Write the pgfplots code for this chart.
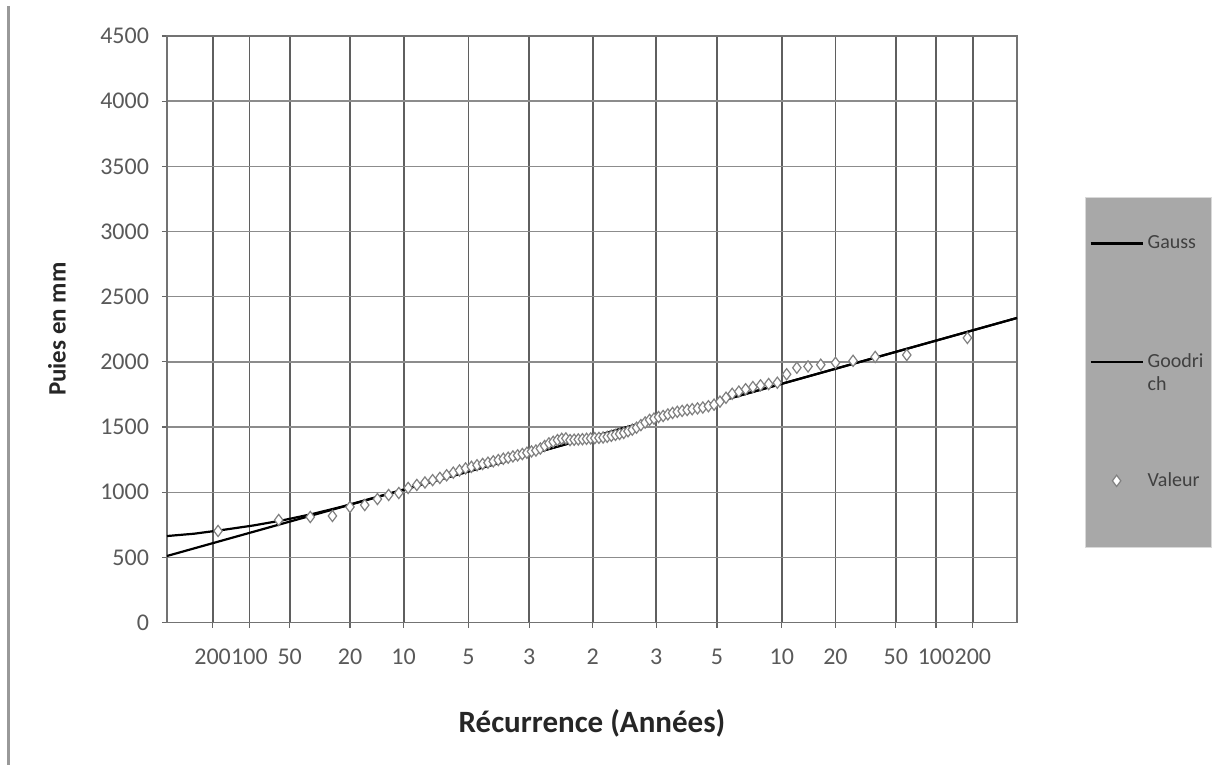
\documentclass[border=0pt]{standalone}
\usepackage{pgfplots}
\pgfplotsset{compat=1.18}
\usepackage{fontspec}
\setmainfont{Carlito}
\definecolor{legendgray}{RGB}{168,168,168}
\definecolor{tickgray}{RGB}{89,89,89}
\definecolor{vgrid}{RGB}{95,95,95}
\definecolor{hgrid}{RGB}{140,140,140}
\pgfplotsset{valeurlegend/.style={legend image code/.code={\path (0pt,-16pt) (0pt,0pt); \draw[mark repeat=2,mark phase=2,##1] plot coordinates {(0pt,0pt) (13pt,0pt) (26pt,0pt)};}}}

\pgfplotstableread{
u v
-2.539 703
-2.128 787
-1.914 810
-1.764 818
-1.645 887
-1.545 902
-1.459 948
-1.383 979
-1.314 994
-1.251 1033
-1.192 1056
-1.137 1075
-1.085 1093
-1.036 1110
-0.990 1130
-0.945 1150
-0.903 1167
-0.862 1183
-0.822 1195
-0.784 1207
-0.746 1217
-0.710 1227
-0.674 1237
-0.640 1247
-0.606 1257
-0.573 1265
-0.541 1275
-0.509 1283
-0.477 1293
-0.446 1303
-0.415 1313
-0.385 1320
-0.355 1335
-0.326 1355
-0.297 1375
-0.268 1387
-0.239 1400
-0.210 1410
-0.182 1413
-0.154 1400
-0.126 1403
-0.098 1405
-0.070 1407
-0.042 1410
-0.014 1413
0.014 1415
0.042 1417
0.070 1420
0.098 1425
0.126 1433
0.154 1440
0.182 1447
0.210 1455
0.239 1468
0.268 1480
0.297 1495
0.326 1515
0.355 1535
0.385 1555
0.415 1565
0.446 1577
0.477 1585
0.509 1597
0.541 1608
0.573 1617
0.606 1624
0.640 1631
0.674 1637
0.710 1643
0.746 1650
0.784 1660
0.822 1672
0.862 1695
0.903 1725
0.945 1755
0.990 1772
1.036 1790
1.085 1807
1.137 1820
1.192 1830
1.251 1840
1.314 1905
1.383 1955
1.459 1965
1.545 1978
1.645 1993
1.764 2008
1.914 2038
2.128 2053
2.539 2184
}\valeur

\pgfplotstableread{
u v
-2.885 511
2.875 2337
}\gauss

\pgfplotstableread{
u v
-2.885 664
-2.7 682
-2.5 712
-2.3 745
-2.1 785
-1.9 833
-1.7 889
-1.5 952
-1.3 1015
0 1426
1 1743
2 2060
2.875 2337
}\goodrich

\begin{document}
\begin{tikzpicture}
\useasboundingbox (0,0) rectangle (606pt,382.5pt);
\fill[black!40] (3.5pt,0pt) rectangle (5pt,379.5pt);
\begin{axis}[
  at={(83.5pt,71.2pt)}, anchor=south west,
  scale only axis, width=425pt, height=293.3pt,
  xmin=-2.885, xmax=2.875, ymin=0, ymax=4500,
  xtick={-2.5758,-2.3263,-2.0537,-1.6449,-1.2816,-0.8416,-0.4307,0,0.4307,0.8416,1.2816,1.6449,2.0537,2.3263,2.5758},
  xticklabels={200,100,50,20,10,5,3,2,3,5,10,20,50,100,200},
  ytick={0,500,...,4500},
  xtick pos=bottom, ytick pos=left,
  tick align=outside, major tick length=2.5pt,
  tick style={black!60, line width=0.6pt},
  xmajorgrids, ymajorgrids,
  x grid style={vgrid, line width=0.9pt},
  y grid style={hgrid, line width=0.7pt},
  axis line style={black!55, line width=0.8pt},
  /pgf/number format/assume math mode=true,
  yticklabel style={/pgf/number format/1000 sep={}, font=\fontsize{12}{14}\selectfont, text=tickgray, xshift=-3pt},
  xticklabel style={font=\fontsize{12}{14}\selectfont, text=tickgray, yshift=-7pt, inner xsep=0pt},
  xlabel={Récurrence (Années)},
  ylabel={Puies en mm},
  xlabel style={font=\bfseries\fontsize{15.5}{17}\selectfont, text=black!85, at={(axis description cs:0.5,-0.172)}, anchor=center},
  ylabel style={font=\bfseries\fontsize{12.5}{14}\selectfont, text=black!85, at={(axis description cs:-0.1294,0.5)}, anchor=center},
  legend image code/.code={\draw[mark repeat=2,mark phase=2,#1] plot coordinates {(0pt,0pt) (13pt,0pt) (26pt,0pt)};},
  legend style={at={(axis description cs:1.08,0.7255)}, anchor=north west,
    fill=legendgray, draw=black!15, line width=0.5pt,
    font=\fontsize{10}{11.5}\selectfont, text=black!75,
    inner xsep=2pt, inner ysep=17pt, row sep=47pt},
  legend cell align=left,
]
\addplot[black, line width=1.1pt] table[x=u,y=v] {\gauss};
\addlegendentry{\parbox[t]{28pt}{Gauss}}
\addplot[black, line width=1.1pt] table[x=u,y=v] {\goodrich};
\addlegendentry{\parbox[t]{28pt}{Goodri\\ch}}
\addplot[only marks, mark=diamond*, mark size=2.8pt, mark options={fill=white, draw=black!50, line width=0.6pt}, valeurlegend] table[x=u,y=v] {\valeur};
\addlegendentry{\parbox[t]{28pt}{Valeur}}
\end{axis}
\end{tikzpicture}
\end{document}
